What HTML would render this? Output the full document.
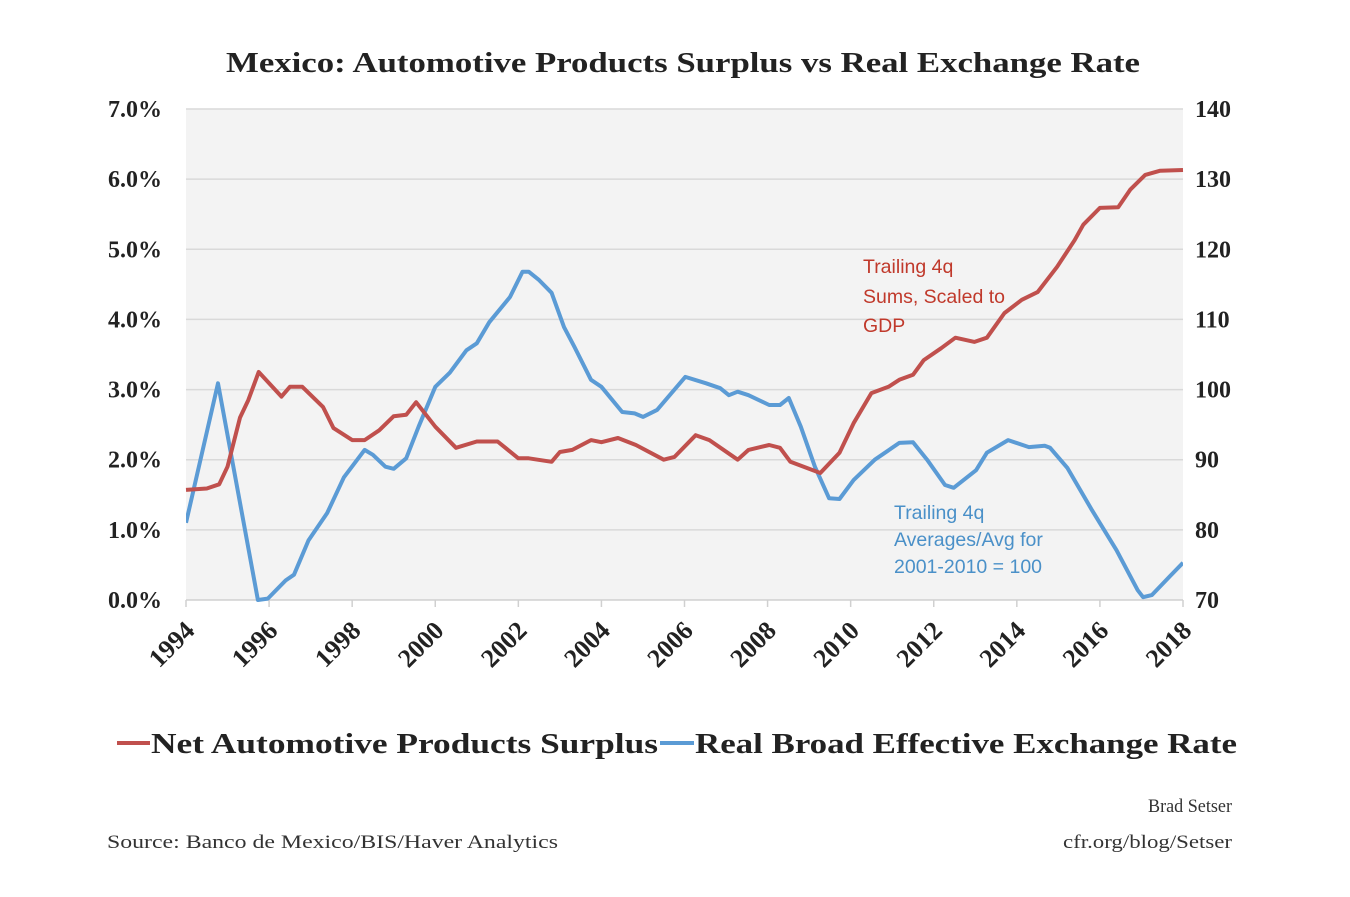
<!DOCTYPE html>
<html><head><meta charset="utf-8">
<style>
body{margin:0;background:#fff;}
svg text{font-family:"Liberation Serif",serif;}
</style></head>
<body>
<svg id="chart" width="1350" height="892" xmlns="http://www.w3.org/2000/svg">
<rect width="1350" height="892" fill="#fff"/>
<text x="226" y="72" font-size="29" font-weight="bold" fill="#222" textLength="914" lengthAdjust="spacingAndGlyphs">Mexico: Automotive Products Surplus vs Real Exchange Rate</text>
<rect x="186" y="109" width="997" height="491" fill="#f3f3f3"/>
<g id="grid"></g>
<g id="axes"></g>
<g id="series"></g>
<text font-size="19.5" fill="#c0392b" style="font-family:'Liberation Sans',sans-serif">
<tspan x="863" y="273">Trailing 4q</tspan><tspan x="863" y="303">Sums, Scaled to</tspan><tspan x="863" y="332">GDP</tspan></text>
<text font-size="19.5" fill="#4a90c8" style="font-family:'Liberation Sans',sans-serif">
<tspan x="894" y="519">Trailing 4q</tspan><tspan x="894" y="546">Averages/Avg for</tspan><tspan x="894" y="573">2001-2010 = 100</tspan></text>
<g>
<line x1="117" y1="743" x2="150" y2="743" stroke="#c0504d" stroke-width="4"/>
<text x="151" y="753" font-size="28" font-weight="bold" fill="#222" textLength="507" lengthAdjust="spacingAndGlyphs">Net Automotive Products Surplus</text>
<line x1="660" y1="743" x2="694" y2="743" stroke="#5b9bd5" stroke-width="4"/>
<text x="695" y="753" font-size="28" font-weight="bold" fill="#222" textLength="542" lengthAdjust="spacingAndGlyphs">Real Broad Effective Exchange Rate</text>
</g>
<text x="107" y="848" font-size="19" fill="#333" textLength="451" lengthAdjust="spacingAndGlyphs">Source: Banco de Mexico/BIS/Haver Analytics</text>
<text x="1148" y="812" font-size="19" fill="#333" textLength="84" lengthAdjust="spacingAndGlyphs">Brad Setser</text>
<text x="1063" y="848" font-size="19" fill="#333" textLength="169" lengthAdjust="spacingAndGlyphs">cfr.org/blog/Setser</text>
</svg>
<script>
const surplusYears=[1994.0,1994.5,1994.8,1995.0,1995.3,1995.5,1995.75,1996.3,1996.5,1996.8,1997.3,1997.55,1998.0,1998.3,1998.65,1999.0,1999.3,1999.54,2000.0,2000.5,2001.0,2001.5,2002.0,2002.25,2002.8,2003.0,2003.3,2003.75,2004.0,2004.4,2004.83,2005.5,2005.76,2006.27,2006.6,2007.28,2007.54,2008.04,2008.3,2008.55,2009.27,2009.73,2010.07,2010.5,2010.91,2011.17,2011.5,2011.76,2012.18,2012.52,2012.98,2013.28,2013.7,2014.12,2014.5,2014.97,2015.39,2015.6,2016.0,2016.44,2016.73,2017.09,2017.45,2018.0];
const surplusValues=[1.57,1.59,1.65,1.9,2.6,2.85,3.25,2.9,3.04,3.04,2.75,2.45,2.28,2.28,2.42,2.62,2.64,2.82,2.47,2.17,2.26,2.26,2.02,2.02,1.97,2.11,2.14,2.28,2.25,2.31,2.21,2.0,2.04,2.35,2.28,2.0,2.14,2.21,2.17,1.97,1.81,2.1,2.52,2.95,3.04,3.14,3.21,3.42,3.59,3.74,3.68,3.74,4.09,4.28,4.39,4.75,5.13,5.35,5.59,5.6,5.85,6.06,6.12,6.13];
const rateYears=[1994.0,1994.77,1995.73,1995.97,1996.4,1996.6,1996.95,1997.4,1997.8,1998.3,1998.5,1998.8,1999.0,1999.3,1999.6,2000.0,2000.35,2000.75,2001.0,2001.3,2001.8,2002.1,2002.25,2002.5,2002.8,2003.1,2003.35,2003.75,2004.0,2004.5,2004.8,2005.0,2005.34,2006.02,2006.52,2006.86,2007.07,2007.28,2007.54,2008.04,2008.3,2008.51,2008.8,2009.14,2009.48,2009.73,2010.07,2010.58,2011.17,2011.5,2011.84,2012.27,2012.48,2013.02,2013.28,2013.79,2014.29,2014.67,2014.8,2015.22,2015.81,2016.4,2016.91,2017.04,2017.25,2017.67,2018.0];
const rateValues=[81.0,100.9,70.0,70.2,72.8,73.6,78.5,82.4,87.5,91.4,90.7,89.0,88.7,90.2,94.7,100.4,102.4,105.6,106.6,109.6,113.2,116.8,116.8,115.6,113.8,108.9,106.1,101.4,100.4,96.8,96.6,96.1,97.1,101.8,100.9,100.2,99.2,99.7,99.2,97.8,97.8,98.8,94.7,89.0,84.5,84.4,87.1,90.0,92.4,92.5,90.0,86.4,86.0,88.5,91.0,92.8,91.8,92.0,91.7,88.8,82.8,77.1,71.4,70.4,70.7,73.3,75.3];
const leftTicks=["0.0%","1.0%","2.0%","3.0%","4.0%","5.0%","6.0%","7.0%"];
const leftTickValues=[0,1,2,3,4,5,6,7];
const rightTicks=[70,80,90,100,110,120,130,140];
const xTicks=[1994,1996,1998,2000,2002,2004,2006,2008,2010,2012,2014,2016,2018];

const X0=186,X1=1183,Y0=600,Y1=109;
const xs=y=>X0+(y-1994)/(2018-1994)*(X1-X0);
const yl=v=>Y0-(v-0)/7*(Y0-Y1);
const yr=v=>Y0-(v-70)/70*(Y0-Y1);
const NS="http://www.w3.org/2000/svg";
function mk(tag,attrs,parent,txt){const e=document.createElementNS(NS,tag);for(const k in attrs)e.setAttribute(k,attrs[k]);if(txt!==undefined)e.textContent=txt;parent.appendChild(e);return e;}
const grid=document.getElementById('grid'),axes=document.getElementById('axes'),series=document.getElementById('series');
leftTickValues.forEach((v,i)=>{
  if(v>0){const g=mk('line',{x1:X0,x2:X1,y1:yl(v),y2:yl(v),stroke:'#d9d9d9','stroke-width':1.5},grid);
  
  }
  const t=mk('text',{x:162,y:yl(v)+8,'text-anchor':'end','font-size':24,'font-weight':'bold',fill:'#222'},axes,leftTicks[i]);
  
  
});
rightTicks.forEach(v=>{
  const t=mk('text',{x:1195,y:yr(v)+8,'font-size':24,'font-weight':'bold',fill:'#222'},axes,String(v));
  
  
});
const ax=mk('line',{x1:X0,x2:X1,y1:Y0,y2:Y0,stroke:'#d0d0d0','stroke-width':1.5},axes);


xTicks.forEach(yv=>{
  const x=xs(yv);
  const tk=mk('line',{x1:x,x2:x,y1:Y0,y2:Y0+7,stroke:'#d0d0d0','stroke-width':1.5},axes);
  
  
  const t=mk('text',{x:x+10,y:Y0+32,'text-anchor':'end','font-size':26,'font-weight':'bold',fill:'#222',transform:`rotate(-45 ${x+10} ${Y0+32})`},axes,String(yv));
  
  
});
const clip=mk('clipPath',{id:'pc'},series);mk('rect',{x:X0,y:Y1,width:X1-X0,height:Y0-Y1+2},clip);
const rp=rateYears.map((y,i)=>`${i?'L':'M'}${xs(y).toFixed(1)},${yr(rateValues[i]).toFixed(1)}`).join('');
const r=mk('path',{d:rp,fill:'none',stroke:'#5b9bd5','stroke-width':4,'stroke-linejoin':'round','clip-path':'url(#pc)'},series);


const sp=surplusYears.map((y,i)=>`${i?'L':'M'}${xs(y).toFixed(1)},${yl(surplusValues[i]).toFixed(1)}`).join('');
const s=mk('path',{d:sp,fill:'none',stroke:'#c0504d','stroke-width':4,'stroke-linejoin':'round'},series);


</script>
</body></html>
